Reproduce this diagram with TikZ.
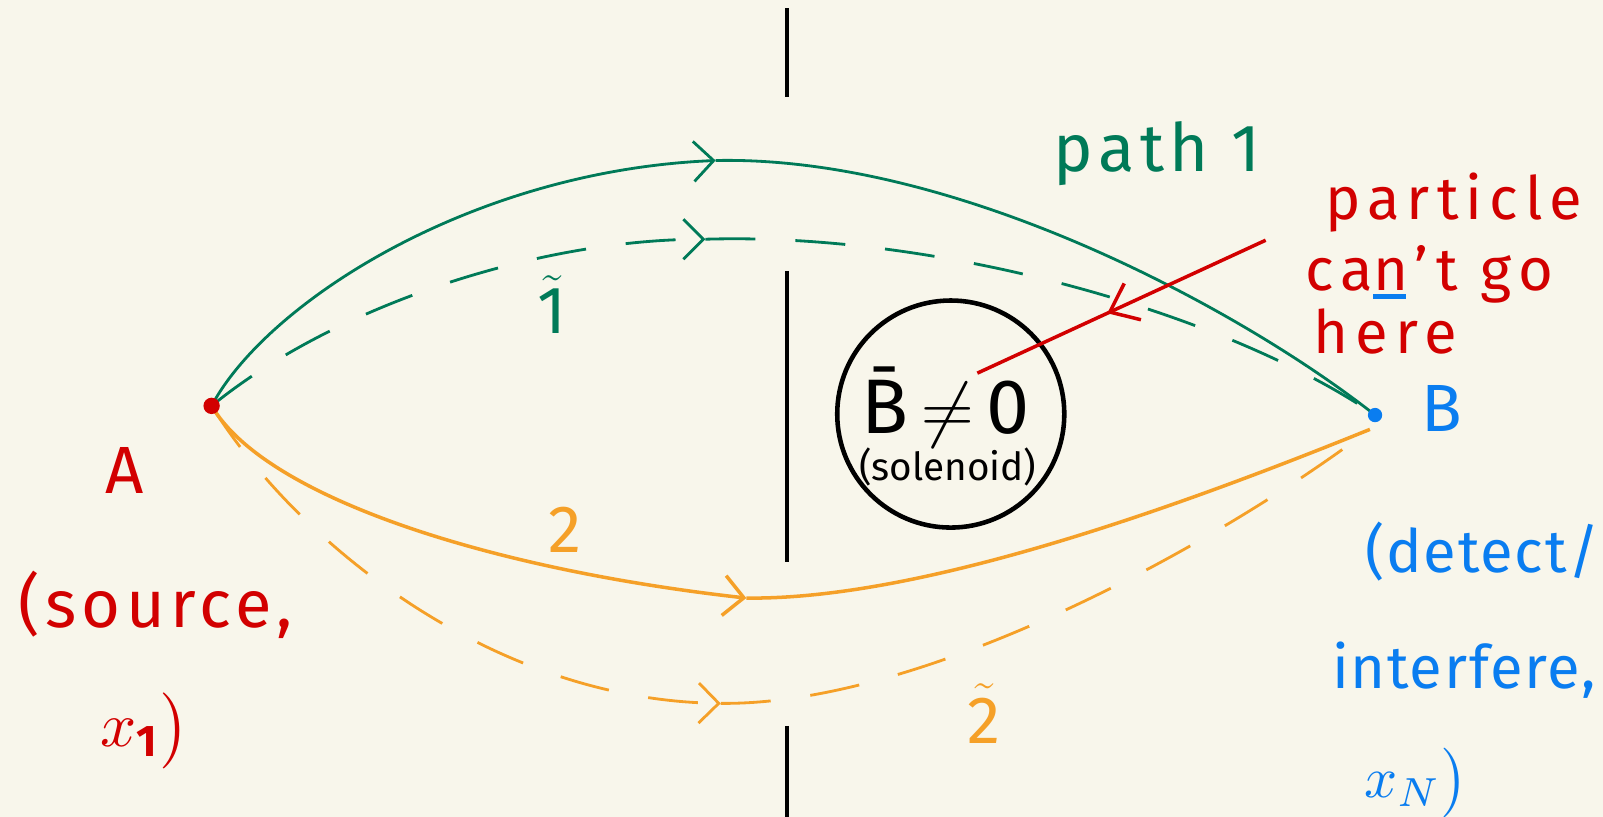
\documentclass[tikz,border=0pt]{standalone}
\usepackage{fontspec}
\usepackage{graphicx}
\setmainfont{Fira Sans}
\usetikzlibrary{arrows.meta,decorations.markings}
\definecolor{paper}{RGB}{248,246,235}
\definecolor{pathgreen}{RGB}{0,122,88}
\definecolor{inkred}{RGB}{210,0,0}
\definecolor{pathorange}{RGB}{245,160,40}
\definecolor{inkblue}{RGB}{10,125,240}
\begin{document}
\begin{tikzpicture}[x=1.022cm,y=-1.022cm,line width=.8pt,
  barb/.style={-{Straight Barb[length=2mm,width=4mm]}},
  longdash/.style={dash pattern=on 5mm off 4mm},
  hand/.style={font=\fontsize{19}{22}\selectfont\addfontfeature{LetterSpace=8}},
  note/.style={font=\fontsize{17}{20}\selectfont\addfontfeature{LetterSpace=12}},
  narrow/.style={font=\fontsize{17}{20}\selectfont\addfontfeature{LetterSpace=3}},
  small/.style={font=\fontsize{11}{13}\selectfont}]
\fill[paper] (0,0) rectangle (15.68,7.99);
\useasboundingbox (0,0) rectangle (15.68,7.99);
\coordinate (A) at (2.07,3.97);
\coordinate (B) at (13.45,4.06);
\coordinate (Bo) at (13.40,4.20);
\coordinate (g) at (7.00,1.57);
\coordinate (gt) at (6.90,2.34);
\coordinate (o) at (7.30,5.85);
\coordinate (ot) at (7.05,6.88);
% the screen with its slits
\draw[line width=1pt] (7.70,0.08)--(7.70,0.95) (7.70,2.65)--(7.70,5.50)
                      (7.70,7.10)--(7.70,7.99);
\node[circle,draw,line width=1.3pt,minimum size=2.27cm,inner sep=0pt] (sol) at (9.30,4.05) {};
% path 1 and 1~
\draw[pathgreen,barb] (A) .. controls (2.60,2.97) and (4.60,1.67) .. (g);
\draw[pathgreen] (g) .. controls (9.40,1.52) and (12.20,3.07) .. (B);
\draw[pathgreen,longdash,barb] (A) .. controls (3.30,2.97) and (5.30,2.34) .. (gt);
\draw[pathgreen,longdash] (gt) .. controls (9.20,2.27) and (12.00,3.07) .. (B);
% path 2 and 2~
\draw[pathorange,line width=1pt,barb] (A) .. controls (2.60,4.87) and (4.80,5.57) .. (o);
\draw[pathorange,line width=1pt] (o) .. controls (9.00,5.87) and (11.50,4.97) .. (Bo);
\draw[pathorange,longdash,barb] (A) .. controls (2.90,5.30) and (4.80,6.85) .. (ot);
\draw[pathorange,longdash] (ot) .. controls (9.00,6.90) and (11.80,5.40) .. (Bo);
\fill[inkred] (A) circle[radius=.08];
\fill[inkblue] (B) circle[radius=.07];
% pointer into the solenoid
\coordinate (rt) at (12.38,2.35);
\coordinate (rh) at (9.56,3.65);
\draw[inkred,line width=1pt,postaction={decorate},
  decoration={markings,mark=at position .55 with {\arrow{Straight Barb[length=2.5mm,width=4mm]}}}]
  (rt) -- (rh);
% labels
\node[hand,pathgreen] (p1) at (11.32,1.50) {path 1};
\node[hand,pathgreen] (t1) at (5.40,2.98) {$\tilde{\mbox{1}}$};
\node[hand,pathorange] (t2) at (5.53,5.18) {2};
\node[hand,pathorange] (tt2) at (9.63,6.98) {$\tilde{\mbox{2}}$};
\node[font=\fontsize{22}{26}\selectfont] (Bne) at (9.25,3.98) {B̄\,$\neq$\,0};
\node[small] (soltxt) at (9.27,4.57) {(solenoid)};
\node[note,inkred] (pc1) at (14.22,1.98) {particle};
\node[note,inkred] (pc2) at (13.98,2.68)
  {ca\rlap{\textcolor{inkblue}{\rule[-.15em]{.55em}{.09em}}}n't go};
\node[note,inkred] (pc3) at (13.55,3.24) {here};
\node[hand,inkred] (labA) at (1.22,4.60) {A};
\node[hand,inkred] (srcA) at (1.52,5.92) {(source,};
\node[inkred] (xA) at (1.42,7.15) {\scalebox{1.8}{$x_{\mathbf{1}}\big)$}};
\node[hand,inkblue] (labB) at (14.10,4.00) {B};
\node[narrow,inkblue] (detB) at (14.50,5.40) {(detect/};
\node[narrow,inkblue] (intB) at (14.32,6.56) {interfere,};
\node[inkblue] (xB) at (13.85,7.66) {\scalebox{1.65}{$x_N\big)$}};
\end{tikzpicture}
\end{document}
